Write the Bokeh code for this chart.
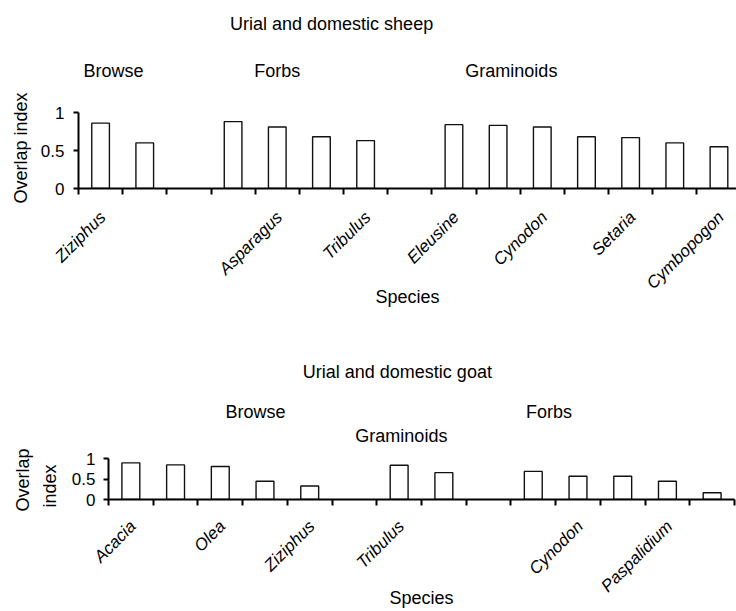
import math
from bokeh.plotting import figure
from bokeh.models import FixedTicker, Label, ColumnDataSource, Title
from bokeh.layouts import column
from bokeh.embed import file_html
from bokeh.resources import INLINE

# ---------------- data ----------------
sheep_labels = ["Ziziphus", "", "", "", "Asparagus", "", "Tribulus", "",
                "Eleusine", "", "Cynodon", "", "Setaria", "", "Cymbopogon"]
sheep_values = [0.86, 0.60, None, 0.88, 0.81, 0.68, 0.63, None,
                0.84, 0.83, 0.81, 0.68, 0.67, 0.60, 0.55]
sheep_groups = ["Browse", "Forbs", "Graminoids"]
sheep_title = "Urial and domestic sheep"

goat_labels = ["Acacia", "", "Olea", "", "Ziziphus", "", "Tribulus", "",
               "", "", "Cynodon", "", "Paspalidium", ""]
goat_values = [0.90, 0.85, 0.81, 0.45, 0.33, None, 0.84, 0.66,
               None, 0.69, 0.57, 0.57, 0.45, 0.165]
goat_groups = ["Browse", "Forbs", "Graminoids"]
goat_title = "Urial and domestic goat"

y_ticks = [0, 0.5, 1]
y_tick_labels = ["0", "0.5", "1"]
x_title = "Species"
y_title = "Overlap index"

FONT = "Liberation Sans"


def side_title(txt, off, st):
    kw = dict(text=txt, align="right", offset=off,
              text_font=FONT, text_font_size="18px",
              text_font_style="normal", text_color="black")
    try:
        return Title(standoff=st, **kw)
    except Exception:
        return Title(standoff=0, **kw)


def make_chart(labels, values, title, groups, group_pos, title_pos, width, height,
               left, right, bottom, y_top, x_end, y_lines, label_shift, standoff,
               x_label_standoff, y_label_standoff):
    n = len(labels)
    p = figure(width=width, height=height, x_range=(0, x_end), y_range=(0, y_top),
               output_backend="svg", toolbar_location=None,
               min_border_left=left, min_border_right=right,
               min_border_top=0, min_border_bottom=bottom)
    p.frame_align = False
    p.outline_line_color = None
    p.xgrid.visible = False
    p.ygrid.visible = False
    p.background_fill_color = "white"
    p.border_fill_color = "white"

    xs = [i + 0.5 for i, v in enumerate(values) if v is not None]
    tops = [v for v in values if v is not None]
    src = ColumnDataSource(dict(x=xs, top=tops))
    p.vbar(x="x", top="top", width=0.4, bottom=0, source=src,
           fill_color="white", line_color="#111111", line_width=1.4)

    # x axis
    xa = p.xaxis[0]
    centers = [i + 0.5 + label_shift for i, l in enumerate(labels) if l]
    xa.ticker = FixedTicker(ticks=centers, minor_ticks=list(range(n + 1)))
    xa.major_label_overrides = {i + 0.5 + label_shift: l for i, l in enumerate(labels) if l}
    xa.major_tick_out = 0
    xa.major_tick_in = 0
    xa.minor_tick_out = 6
    xa.minor_tick_in = 0
    xa.minor_tick_line_width = 2
    xa.minor_tick_line_color = "black"
    xa.axis_line_width = 2
    xa.axis_line_color = "black"
    xa.major_label_orientation = math.pi / 4
    xa.major_label_text_font = FONT
    xa.major_label_text_font_style = "italic"
    xa.major_label_text_font_size = "17px"
    xa.major_label_text_color = "black"
    xa.major_label_standoff = standoff
    xa.axis_label = x_title
    xa.axis_label_text_font = FONT
    xa.axis_label_text_font_style = "normal"
    xa.axis_label_text_font_size = "18px"
    xa.axis_label_text_color = "black"
    xa.axis_label_standoff = x_label_standoff

    # y axis
    ya = p.yaxis[0]
    ya.ticker = FixedTicker(ticks=y_ticks)
    ya.major_label_overrides = {t: s for t, s in zip(y_ticks, y_tick_labels)}
    ya.bounds = (0, 1)
    ya.minor_tick_out = 0
    ya.minor_tick_in = 0
    ya.major_tick_in = 0
    ya.major_tick_out = 5
    ya.major_tick_line_width = 2
    ya.axis_line_width = 2
    ya.axis_line_color = "black"
    ya.major_tick_line_color = "black"
    ya.major_label_text_font = FONT
    ya.major_label_text_font_size = "17px"
    ya.major_label_text_color = "black"
    ya.major_label_standoff = y_label_standoff

    # y axis title(s) as side titles, placed from the top of the frame
    for txt, off, st in y_lines:
        p.add_layout(side_title(txt, off, st), "left")

    # chart title / group headers (inside the frame)
    p.add_layout(Label(x=title_pos[0], y=title_pos[1], text=title,
                       text_font=FONT, text_font_size="18px", text_color="black",
                       text_align="center", text_baseline="middle"))
    for g, (gx, gy) in zip(groups, group_pos):
        p.add_layout(Label(x=gx, y=gy, text=g, text_font=FONT,
                           text_font_size="18px", text_color="black",
                           text_align="center", text_baseline="middle"))
    return p


p1 = make_chart(sheep_labels, sheep_values, sheep_title, sheep_groups,
                group_pos=[(0.79, 1.543), (4.50, 1.543), (9.80, 1.543)],
                title_pos=(5.73, 2.167),
                width=736, height=316, left=78, right=0, bottom=128,
                y_top=188 / 76.0, x_end=658 / 44.17,
                y_lines=[(y_title, 92, 14)], label_shift=0.05, standoff=20,
                x_label_standoff=-15, y_label_standoff=9)

p2 = make_chart(goat_labels, goat_values, goat_title, goat_groups,
                group_pos=[(3.29, 2.16), (9.85, 2.16), (6.55, 1.55)],
                title_pos=(6.46, 3.13),
                width=736, height=295, left=108, right=2, bottom=112,
                y_top=183 / 40.7, x_end=14,
                y_lines=[("index", 148, 17), ("Overlap", 132, -6)],
                label_shift=0.05, standoff=18, x_label_standoff=-17,
                y_label_standoff=8)

layout = column(p1, p2)
open("out.html", "w").write(file_html(layout, INLINE))
